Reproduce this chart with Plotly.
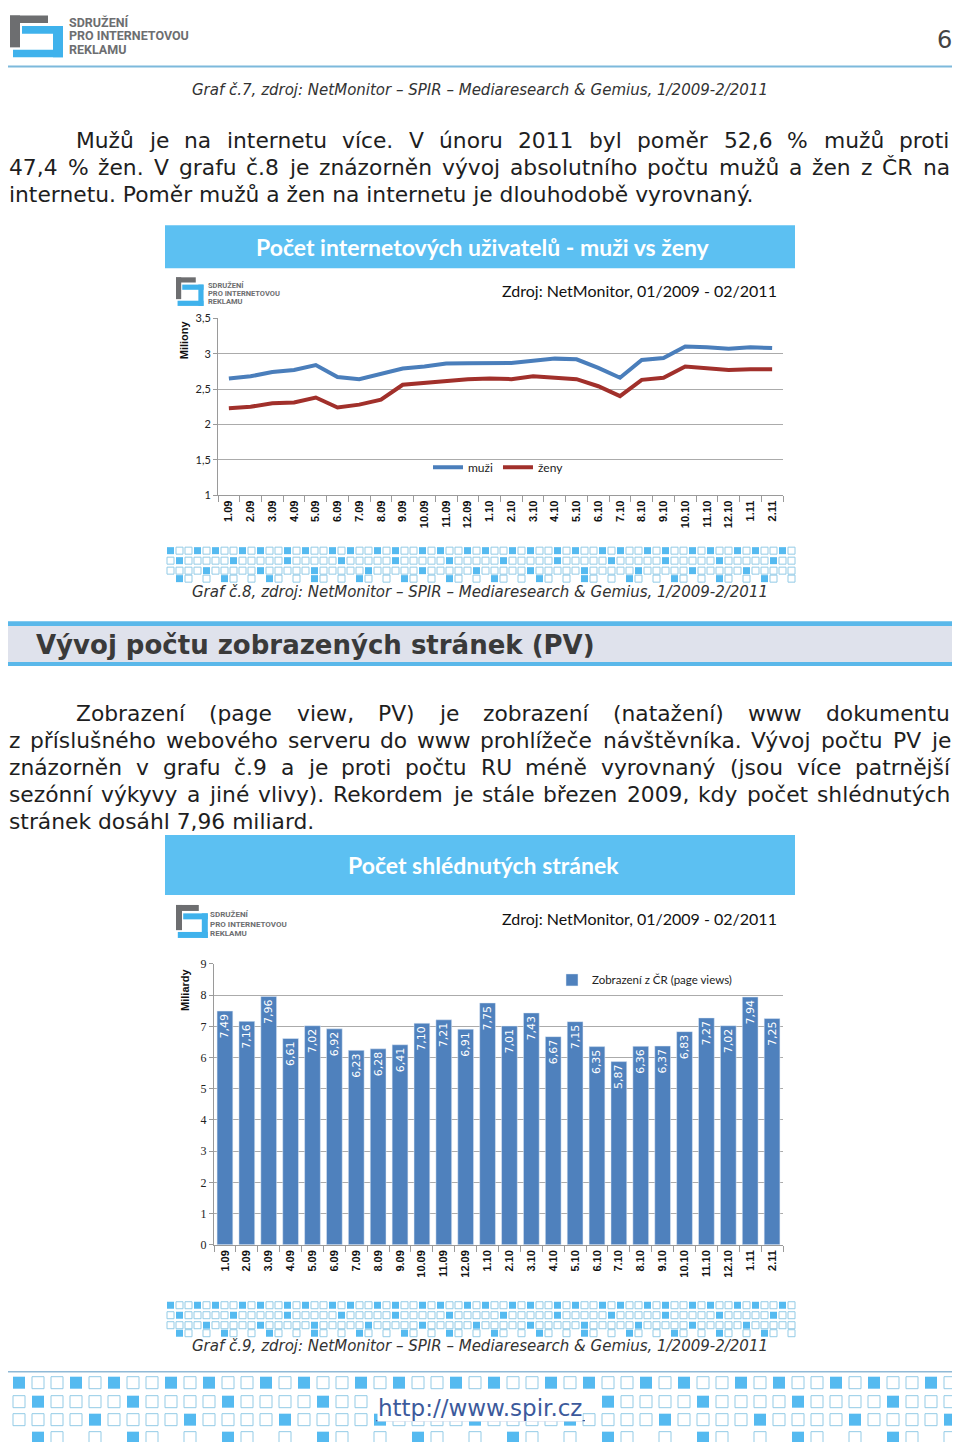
import unicodedata
import plotly.graph_objects as go

# figure size and how the figure sits on the photographed 960x1450 page
FW, FH = 944, 1434
PAGE_X0 = 8          # horizontal body margin
PAGE_Y0 = 14.53      # vertical position of figure pixel 0 on the photo
PAGE_YS = 0.9908     # vertical scale of the photo

# ---------------- data ----------------
months = ["1.09", "2.09", "3.09", "4.09", "5.09", "6.09", "7.09", "8.09", "9.09",
          "10.09", "11.09", "12.09", "1.10", "2.10", "3.10", "4.10", "5.10", "6.10",
          "7.10", "8.10", "9.10", "10.10", "11.10", "12.10", "1.11", "2.11"]
muzi = [2.65, 2.68, 2.74, 2.77, 2.84, 2.67, 2.64, 2.72, 2.79, 2.82, 2.86, 2.865,
        2.87, 2.87, 2.90, 2.93, 2.92, 2.80, 2.66, 2.91, 2.94, 3.10, 3.09, 3.07,
        3.09, 3.08]
zeny = [2.23, 2.25, 2.30, 2.31, 2.38, 2.24, 2.28, 2.35, 2.56, 2.59, 2.62, 2.64,
        2.65, 2.64, 2.68, 2.66, 2.64, 2.54, 2.40, 2.63, 2.66, 2.82, 2.80, 2.77,
        2.78, 2.78]
page_views = [7.49, 7.16, 7.96, 6.61, 7.02, 6.92, 6.23, 6.28, 6.41, 7.10, 7.21, 6.91,
              7.75, 7.01, 7.43, 6.67, 7.15, 6.35, 5.87, 6.36, 6.37, 6.83, 7.27, 7.02,
              7.94, 7.25]
line_names = ["muži", "ženy"]
bar_name = "Zobrazení z ČR (page views)"
line_ticks = [1, 1.5, 2, 2.5, 3, 3.5]
bar_ticks = [0, 1, 2, 3, 4, 5, 6, 7, 8, 9]

title1 = "Počet internetových uživatelů - muži vs ženy"
title2 = "Počet shlédnutých stránek"
source_txt = "Zdroj: NetMonitor, 01/2009 - 02/2011"
cap7 = "Graf č.7, zdroj: NetMonitor – SPIR – Mediaresearch &amp; Gemius, 1/2009-2/2011"
cap8 = "Graf č.8, zdroj: NetMonitor – SPIR – Mediaresearch &amp; Gemius, 1/2009-2/2011"
cap9 = "Graf č.9, zdroj: NetMonitor – SPIR – Mediaresearch &amp; Gemius, 1/2009-2/2011"
heading = "Vývoj počtu zobrazených stránek (PV)"
para1 = ["Mužů je na internetu více. V únoru 2011 byl poměr 52,6 % mužů proti",
         "47,4 % žen. V grafu č.8 je znázorněn vývoj absolutního počtu mužů a žen z ČR na",
         "internetu. Poměr mužů a žen na internetu je dlouhodobě vyrovnaný."]
para2 = ["Zobrazení (page view, PV) je zobrazení (natažení) www dokumentu",
         "z příslušného webového serveru do www prohlížeče návštěvníka. Vývoj počtu PV je",
         "znázorněn v grafu č.9 a je proti počtu RU méně vyrovnaný (jsou více patrnější",
         "sezónní výkyvy a jiné vlivy). Rekordem je stále březen 2009, kdy počet shlédnutých",
         "stránek dosáhl 7,96 miliard."]
logo_lines = ["SDRUŽENÍ", "PRO INTERNETOVOU", "REKLAMU"]
link_txt = "http://www.spir.cz"

# ---------------- colours ----------------
C_MUZI = "#4a7ebb"
C_ZENY = "#a1302b"
C_BAR = "#4f81bd"
C_BANNER = "#5cc0f2"
C_SQ = "#55baf0"
C_SQLINE = "#93cbe6"
C_GRID = "#ababab"

shapes, annots = [], []


def px(x):
    return (x - PAGE_X0) / FW


def py(y):
    return 1 - ((y - PAGE_Y0) / PAGE_YS) / FH


def rect(x0, y0, x1, y1, fill, line=None, lw=0):
    shapes.append(dict(type="rect", xref="paper", yref="paper", x0=px(x0), x1=px(x1),
                       y0=py(y1), y1=py(y0), fillcolor=fill, layer="below",
                       line=dict(color=line or fill, width=lw)))


def hline(x0, x1, y, color, lw):
    shapes.append(dict(type="line", xref="paper", yref="paper", x0=px(x0), x1=px(x1),
                       y0=py(y), y1=py(y), line=dict(color=color, width=lw), layer="below"))


def text(x, y, s, size, color="#222", family="DejaVu Sans", xanchor="left",
         angle=0, bg=None):
    d = dict(xref="paper", yref="paper", x=px(x), y=py(y), text=s, showarrow=False,
             font=dict(size=size, color=color, family=family), xanchor=xanchor,
             yanchor="middle", textangle=angle, borderpad=0)
    if bg:
        d["bgcolor"] = bg
    annots.append(d)


# DejaVu Sans advance widths (units of 1/2048 em)
DV = {" ": 651, "%": 1946, "(": 799, ")": 799, ",": 651, ".": 651, "-": 739, ":": 690,
      "A": 1401, "B": 1405, "C": 1430, "D": 1577, "E": 1294, "F": 1178, "G": 1587,
      "H": 1540, "I": 604, "J": 604, "K": 1343, "L": 1141, "M": 1767, "N": 1532,
      "O": 1612, "P": 1235, "Q": 1612, "R": 1423, "S": 1300, "T": 1251, "U": 1499,
      "V": 1401, "W": 2025, "X": 1403, "Y": 1251, "Z": 1403,
      "a": 1255, "b": 1300, "c": 1126, "d": 1300, "e": 1260, "f": 721, "g": 1300,
      "h": 1298, "i": 569, "j": 569, "k": 1186, "l": 569, "m": 1995, "n": 1298,
      "o": 1253, "p": 1300, "q": 1300, "r": 842, "s": 1067, "t": 803, "u": 1298,
      "v": 1212, "w": 1675, "x": 1212, "y": 1212, "z": 1075}


def tw(s, size):
    tot = 0
    for ch in s:
        base = unicodedata.normalize("NFD", ch)[0]
        tot += DV.get(base, 1303)
    return tot / 2048 * size


BODY = 21.8
BODY_C = "#1e1e1e"
RIGHT = 949


def justified(line, x0, x1, y, size=BODY, color=BODY_C):
    words = line.split(" ")
    widths = [tw(w, size) for w in words]
    gap = max((x1 - x0 - sum(widths)) / (len(words) - 1), 0.22 * size)
    x = x0
    for w, wd in zip(words, widths):
        text(x, y, w, size, color)
        x += wd + gap


def logo(x0, y0, sx, sy, tsize, tx, ty0, tdy, family="Roboto"):
    g, b = "#6d6e70", "#3fb2ec"
    for (a, c, d, e, col) in [(0, 0, 38, 10, g), (0, 0, 10, 42, g),
                              (12, 14, 53, 24, b), (43, 14, 53, 55, b), (3, 45, 53, 55, b)]:
        rect(x0 + a * sx, y0 + c * sy, x0 + d * sx, y0 + e * sy, col)
    for i, t in enumerate(logo_lines):
        text(tx, ty0 + i * tdy, "<b>" + t + "</b>", tsize, "#6d6e70", family)


def pattern(x0, ys, ncols, pitch, size, spec, skip=None):
    for r, y in enumerate(ys):
        period, filled, present = spec[r]
        for c in range(ncols):
            m = c % period
            if present is not None and m not in present:
                continue
            x = x0 + c * pitch
            if skip and skip(r, x + size / 2):
                continue
            if m in filled:
                rect(x, y, x + size, y + size, C_SQ)
            else:
                rect(x, y, x + size, y + size, "white", C_SQLINE, 1)


# ---------------- page header ----------------
logo(10, 15, 1.0, 0.76, 12.5, 68, 22, 13.5)
text(944, 40, "6", 24, "#444", xanchor="center")
hline(8, 957, 66, "#7db9dc", 2)
text(480, 90, "<i>" + cap7 + "</i>", 15, "#333", xanchor="center")

justified(para1[0], 75, RIGHT, 140)
justified(para1[1], 8, RIGHT, 167)
text(8, 194, para1[2], BODY, BODY_C)

# ---------------- chart 1 decorations ----------------
rect(165, 225, 795, 268, C_BANNER)
text(483, 247, "<b>" + title1 + "</b>", 23, "white", "Lato", xanchor="center")
logo(176, 277, 0.52, 0.52, 7.5, 207, 285, 8)
text(778, 290, source_txt, 16, "#111", "Lato", xanchor="right")
text(184, 340, "<b>Miliony</b>", 11, "#111", "Liberation Sans", xanchor="center", angle=-90)

small_spec = [(5, {0, 3}, None), (6, {1}, None), (6, {4}, None), (5, {1}, {1, 2, 4})]
pattern(167, [547, 557, 567, 575], 70, 9, 7, small_spec)
text(480, 592, "<i>" + cap8 + "</i>", 15, "#333", xanchor="center")

# ---------------- section heading ----------------
rect(5, 624, 955, 664, "#dfe2ec")
rect(5, 621, 955, 626, "#5ab8ea")
rect(5, 662, 955, 666, "#5ab8ea")
text(35, 645, "<b>" + heading + "</b>", 26, "#3a3a3a")

justified(para2[0], 75, RIGHT, 713)
justified(para2[1], 8, RIGHT, 740)
justified(para2[2], 8, RIGHT, 767)
justified(para2[3], 8, RIGHT, 794)
text(8, 821, para2[4], BODY, BODY_C)

# ---------------- chart 2 decorations ----------------
rect(165, 835, 795, 895, C_BANNER)
text(483, 865, "<b>" + title2 + "</b>", 23, "white", "Lato", xanchor="center")
logo(176, 905, 0.6, 0.6, 8, 209, 915, 9.5)
text(778, 919, source_txt, 16, "#111", "Lato", xanchor="right")
text(185, 990, "<b>Miliardy</b>", 11, "#111", "Liberation Sans", xanchor="center", angle=-90)

pattern(167, [1302, 1312, 1322, 1330], 70, 9, 7, small_spec)
text(480, 1346, "<i>" + cap9 + "</i>", 15, "#333", xanchor="center")

# ---------------- footer ----------------
hline(8, 957, 1372, "#8fb9d6", 1.5)
foot_spec = [(5, {0, 3}, None), (5, {1}, None), (5, {4}, None), (5, {1}, {1, 2, 4})]
pattern(13, [1377, 1396, 1414, 1432], 50, 19, 12, foot_spec,
        skip=lambda r, xc: r == 1 and 362 < xc < 598)
text(480, 1408, link_txt, 23, "#3c5a9c", xanchor="center", bg="white")
hline(376, 585, 1421, "#3c5a9c", 1.2)

# ---------------- traces ----------------
fig = go.Figure()
fig.add_trace(go.Scatter(x=months, y=muzi, name=line_names[0], mode="lines",
                         line=dict(color=C_MUZI, width=4), xaxis="x", yaxis="y",
                         legend="legend"))
fig.add_trace(go.Scatter(x=months, y=zeny, name=line_names[1], mode="lines",
                         line=dict(color=C_ZENY, width=4), xaxis="x", yaxis="y",
                         legend="legend"))
bar_text = [f"{v:.2f}".replace(".", ",") for v in page_views]
fig.add_trace(go.Bar(x=months, y=page_views, name=bar_name, marker_color=C_BAR,
                     text=bar_text, texttemplate="%{text}", textposition="inside",
                     insidetextanchor="end", textangle=-90, constraintext="none",
                     textfont=dict(color="white", size=11, family="DejaVu Sans"),
                     xaxis="x2", yaxis="y2", legend="legend2", showlegend=True))

xcommon = dict(type="category", tickangle=-90, showgrid=False, showline=True,
               linecolor="#9a9a9a", ticks="outside", tickson="boundaries", ticklen=6,
               tickcolor="#9a9a9a", range=[-0.5, len(months) - 0.5],
               tickfont=dict(size=11, family="Liberation Sans", color="#111", weight="bold"))
fig.update_layout(
    width=FW, height=FH, margin=dict(l=0, r=0, t=0, b=0),
    paper_bgcolor="white", plot_bgcolor="rgba(0,0,0,0)",
    separators=", ", bargap=0.28,
    shapes=shapes, annotations=annots,
    xaxis=dict(domain=[px(218), px(783)], anchor="y", **xcommon),
    yaxis=dict(domain=[py(495), py(318)], anchor="x", range=[1, 3.5],
               tickvals=line_ticks, showgrid=True, gridcolor=C_GRID, gridwidth=1,
               showline=True, linecolor="#9a9a9a", ticks="outside", ticklen=4,
               tickcolor="#9a9a9a", zeroline=False,
               tickfont=dict(size=11, family="Lato", color="#222")),
    xaxis2=dict(domain=[px(214), px(783)], anchor="y2", **xcommon),
    yaxis2=dict(domain=[py(1245), py(964)], anchor="x2", range=[0, 9],
                tickvals=bar_ticks, showgrid=True, gridcolor=C_GRID, gridwidth=1,
                showline=True, linecolor="#9a9a9a", ticks="outside", ticklen=4,
                tickcolor="#9a9a9a", zeroline=False,
                tickfont=dict(size=12, family="Liberation Serif", color="#222")),
    legend=dict(orientation="h", x=px(428), y=py(467), xanchor="left", yanchor="middle",
                bgcolor="rgba(0,0,0,0)", font=dict(size=12, family="Lato", color="#222"),
                itemwidth=30, tracegroupgap=0),
    legend2=dict(x=px(552), y=py(980), xanchor="left", yanchor="middle",
                 bgcolor="rgba(0,0,0,0)", font=dict(size=11.5, family="Lato", color="#222")),
)

fig.write_html("out.html", config={"displayModeBar": False})
